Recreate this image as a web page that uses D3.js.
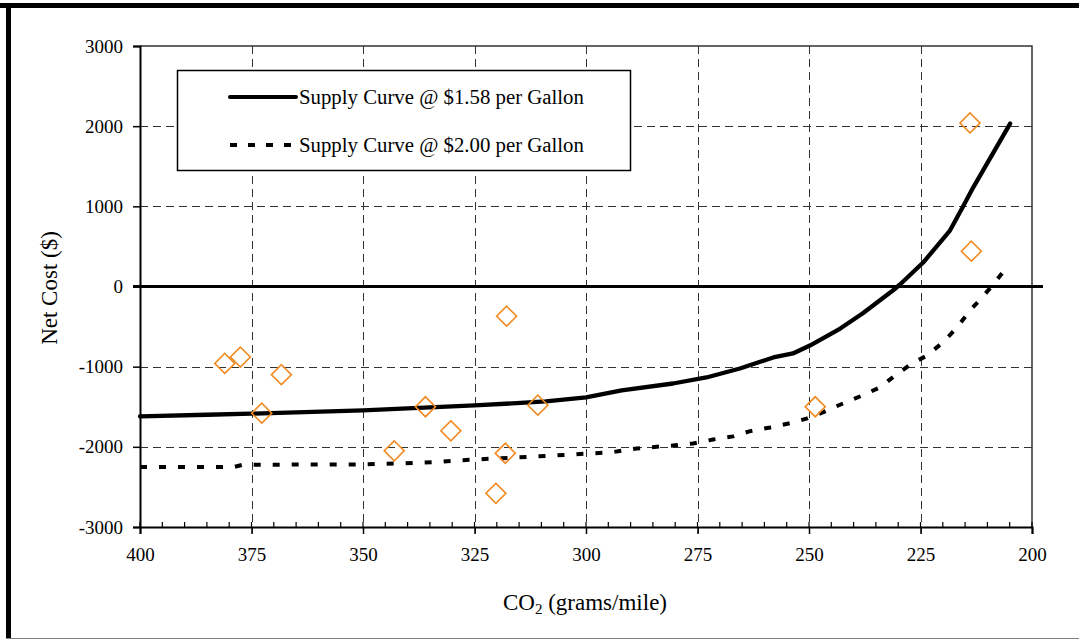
<!DOCTYPE html>
<html><head><meta charset="utf-8">
<script src="https://cdn.jsdelivr.net/npm/d3@7"></script>
<style>
html,body{margin:0;padding:0;background:#fff;}
svg{display:block;font-family:"Liberation Serif","Times New Roman",serif;}
</style></head>
<body>
<svg id="chart" width="1079" height="640"></svg>
<script>
// ---- data ----
const xTicks = [400, 375, 350, 325, 300, 275, 250, 225, 200];
const yTicks = [3000, 2000, 1000, 0, -1000, -2000, -3000];
const seriesNames = ["Supply Curve @ $1.58 per Gallon", "Supply Curve @ $2.00 per Gallon"];

const curve158 = [
  [400, -1621], [385, -1600], [375, -1587], [350, -1546], [325, -1484], [309, -1434],
  [300, -1384], [292, -1297], [280.5, -1210], [273, -1135], [265.5, -1023], [258, -885],
  [253.6, -835], [249.8, -736], [243, -524], [238, -337], [231.2, -50], [229.6, 25],
  [224.4, 299], [218.4, 698], [215.7, 973], [213.2, 1234], [204.9, 2032]
];
const curve200 = [
  [400, -2253], [379, -2253], [376.9, -2223], [350, -2220], [333.4, -2191], [329, -2170],
  [311, -2120], [300, -2086], [294, -2066], [288.6, -2020], [280.5, -1983], [276, -1958],
  [271.5, -1908], [267, -1870], [263.2, -1804], [258.7, -1758], [254.3, -1705], [250.4, -1646],
  [246.9, -1571], [242.4, -1459], [238.6, -1372], [234.1, -1259], [230.7, -1110], [226.9, -960],
  [223.5, -860], [220, -698], [216.8, -511], [213.9, -299], [211.2, -137], [208.3, 50], [205.4, 262]
];
const vehiclesCO2 = [381.0, 377.5, 368.3, 372.7, 343.0, 336.0, 330.3, 317.8, 318.1, 320.2, 310.8, 248.6, 213.9, 213.6];
const vehiclesCost = [-960, -880, -1100, -1580, -2050, -1500, -1800, -370, -2080, -2580, -1480, -1500, 2040, 440];

// ---- layout ----
const svg = d3.select("#chart");
const L = 140, R = 1032, T = 46, B = 527;
const x = d3.scaleLinear().domain([400, 200]).range([L, R]);
const y = d3.scaleLinear().domain([-3000, 3000]).range([B, T]);
const fmt = d => String(d);   // plain hyphen-minus like the original

// outer frame
svg.append("rect").attr("x", 0).attr("y", 3).attr("width", 1079).attr("height", 5).attr("fill", "#000");
svg.append("rect").attr("x", 6).attr("y", 3).attr("width", 5).attr("height", 636).attr("fill", "#000");
svg.append("line").attr("x1", 6).attr("x2", 1079).attr("y1", 638.5).attr("y2", 638.5).attr("stroke", "#808080").attr("stroke-width", 1);

// gridlines
const grid = svg.append("g");
grid.selectAll("line.gx").data(xTicks.filter(d => d !== 400 && d !== 200)).join("line")
  .attr("x1", d => Math.round(x(d)) + 0.5).attr("x2", d => Math.round(x(d)) + 0.5)
  .attr("y1", T).attr("y2", B + 6)
  .attr("stroke", "#333").attr("stroke-width", 1).attr("stroke-dasharray", "8,5");
grid.selectAll("line.gy").data(yTicks.filter(d => d !== 3000 && d !== -3000 && d !== 0)).join("line")
  .attr("x1", L).attr("x2", R)
  .attr("y1", d => Math.round(y(d)) + 0.5).attr("y2", d => Math.round(y(d)) + 0.5)
  .attr("stroke", "#333").attr("stroke-width", 1).attr("stroke-dasharray", "8,5");

// plot border (top & right)
svg.append("path").attr("d", `M${L},${T}H${R}V${B}`).attr("fill", "none").attr("stroke", "#333").attr("stroke-width", 1.5);

// x axis minor ticks (inside)
const minor = d3.range(400, 199, -5);
svg.append("g").selectAll("line").data(minor).join("line")
  .attr("x1", d => x(d)).attr("x2", d => x(d)).attr("y1", B - 5).attr("y2", B)
  .attr("stroke", "#000").attr("stroke-width", 1.2);

// axes via d3
const xAxis = d3.axisBottom(x).tickValues(xTicks).tickSize(7).tickPadding(14).tickFormat(fmt);
const gx = svg.append("g").attr("transform", `translate(0,${B})`).call(xAxis);
gx.select(".domain").attr("stroke", "#000").attr("stroke-width", 2);
gx.selectAll(".tick line").attr("stroke", "#000").attr("stroke-width", 1.5);
gx.selectAll("text").attr("font-family", "Liberation Serif").attr("font-size", 19).attr("fill", "#000");

const yAxis = d3.axisLeft(y).tickValues(yTicks).tickSize(7).tickPadding(10).tickFormat(fmt);
const gy = svg.append("g").attr("transform", `translate(${L},0)`).call(yAxis);
gy.select(".domain").attr("stroke", "#000").attr("stroke-width", 2);
gy.selectAll(".tick line").attr("stroke", "#000").attr("stroke-width", 1.5);
gy.selectAll("text").attr("font-family", "Liberation Serif").attr("font-size", 19).attr("fill", "#000");

// zero line
svg.append("line").attr("x1", L - 7).attr("x2", R + 11).attr("y1", y(0)).attr("y2", y(0))
  .attr("stroke", "#000").attr("stroke-width", 3);

// curves
const line = d3.line().x(d => x(d[0])).y(d => y(d[1]));
svg.append("path").datum(curve158).attr("d", line).attr("fill", "none")
  .attr("stroke", "#000").attr("stroke-width", 4.3).attr("stroke-linejoin", "round").attr("stroke-linecap", "round");
svg.append("path").datum(curve200).attr("d", line).attr("fill", "none")
  .attr("stroke", "#000").attr("stroke-width", 4).attr("stroke-dasharray", "7,12");

// vehicles (diamonds)
const pts = vehiclesCO2.map((c, i) => [c, vehiclesCost[i]]);
const sym = d3.symbol().type(d3.symbolSquare).size(200);
svg.append("g").selectAll("path").data(pts).join("path")
  .attr("d", sym)
  .attr("transform", d => `translate(${x(d[0])},${y(d[1])}) rotate(45)`)
  .attr("fill", "none").attr("stroke", "#F28A22").attr("stroke-width", 1.6);

// legend
const lg = svg.append("g");
lg.append("rect").attr("x", 177.5).attr("y", 70.5).attr("width", 453).attr("height", 100)
  .attr("fill", "#fff").attr("stroke", "#000").attr("stroke-width", 1.5);
[97, 145].forEach((ly, i) => {
  lg.append("line").attr("x1", 230).attr("x2", 296).attr("y1", ly).attr("y2", ly)
    .attr("stroke", "#000").attr("stroke-width", 4)
    .attr("stroke-dasharray", i === 1 ? "7,11" : null)
    .attr("stroke-linecap", i === 0 ? "round" : "butt");
  lg.append("text").attr("x", 299).attr("y", ly + 7).attr("font-size", 20.8).attr("fill", "#000")
    .text(seriesNames[i]);
});

// axis titles
const xt = svg.append("text").attr("x", 585).attr("y", 610).attr("text-anchor", "middle")
  .attr("font-size", 23).attr("fill", "#000");
xt.append("tspan").text("CO");
xt.append("tspan").attr("font-size", 15).attr("dy", 4).text("2");
xt.append("tspan").attr("dy", -4).text(" (grams/mile)");

svg.append("text").attr("transform", "translate(57,288) rotate(-90)").attr("text-anchor", "middle")
  .attr("font-size", 23).attr("fill", "#000").text("Net Cost ($)");
</script>
</body></html>
